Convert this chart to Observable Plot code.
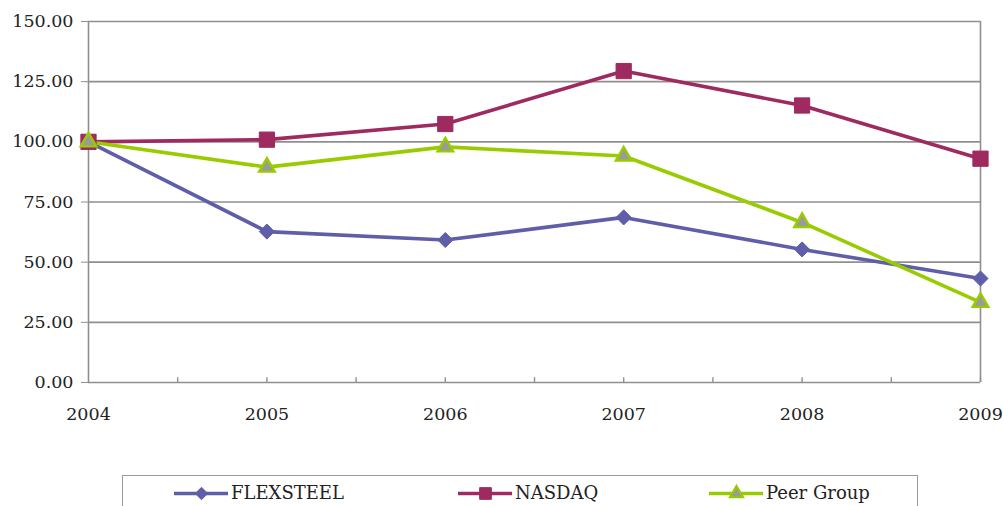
<!DOCTYPE html>
<html>
<head>
<meta charset="utf-8">
<script src="https://cdn.jsdelivr.net/npm/d3@7"></script>
<script src="https://cdn.jsdelivr.net/npm/@observablehq/plot@0.6"></script>
<style>
  html, body { margin: 0; padding: 0; background: #fff; }
  #wrap { position: relative; width: 1004px; height: 506px; overflow: hidden; font-family: "DejaVu Serif", serif; }
  #chart svg { display: block; }
  #chart svg text { font-family: "DejaVu Serif", serif; }
  #legend {
    position: absolute; left: 122px; top: 475px; width: 796px; height: 40px;
    border: 1.6px solid #9a9a9a; box-sizing: border-box; background: #fff;
  }
  .item { position: absolute; top: 5px; height: 24px; display: flex; align-items: center; font-size: 18px; line-height: 24px; color: #222; }
  .item svg { margin-right: 3px; }
</style>
</head>
<body>
<div id="wrap">
  <div id="chart"></div>
  <div id="legend"></div>
</div>
<script>
// Cumulative total return, indexed to 100 in 2004
const years = [2004, 2005, 2006, 2007, 2008, 2009];
const flexsteel = [100.0, 62.7, 59.2, 68.6, 55.3, 43.2];
const nasdaq = [100.0, 100.9, 107.4, 129.4, 115.1, 93.0];
const peerGroup = [100.0, 89.5, 97.9, 94.1, 66.5, 33.3];
const yTicks = [0, 25, 50, 75, 100, 125, 150];
const halfYearTicks = d3.range(2004.5, 2009.01, 0.5);

const seriesInfo = [
  {name: "FLEXSTEEL", values: flexsteel, color: "#5f5ea8", symbol: "diamond2", r: 6.8, legendR: 5.6, fill: "#5f5ea8"},
  {name: "NASDAQ", values: nasdaq, color: "#9e2a60", symbol: "square", r: 8.6, legendR: 6.6, fill: "#9e2a60"},
  {name: "Peer Group", values: peerGroup, color: "#99cc00", symbol: "triangle", r: 5.8, legendR: 4.8, fill: "#9a9a9a"}
];

const rows = seriesInfo.flatMap(s => years.map((year, i) => ({series: s.name, year, value: s.values[i]})));
const gridColor = "#8f8f8f";
const serif = "'DejaVu Serif', serif";

const marks = [
  Plot.ruleY(yTicks.filter(d => d > 0), {y: d => d, stroke: gridColor, strokeWidth: 1.6}),
  Plot.ruleX(halfYearTicks, {x: d => d, y1: 0, y2: 2, stroke: gridColor, strokeWidth: 1.4}),
  Plot.ruleX([2004, 2009], {x: d => d, y1: 0, y2: 150, stroke: gridColor, strokeWidth: 1.6}),
  Plot.ruleY([0], {stroke: gridColor, strokeWidth: 1.6}),
  Plot.axisY({ticks: yTicks, tickFormat: d3.format(".2f"), tickSize: 7, tickPadding: 8, stroke: gridColor, fontSize: 17.5, fill: "#222", label: null}),
  Plot.axisX({ticks: years, tickFormat: d => String(d), tickSize: 0, tickPadding: 25, fontSize: 17.5, fill: "#222", label: null})
];

for (const s of seriesInfo) {
  const data = rows.filter(d => d.series === s.name);
  marks.push(Plot.line(data, {x: "year", y: "value", stroke: s.color, strokeWidth: 3.6}));
}
for (const s of seriesInfo) {
  const data = rows.filter(d => d.series === s.name);
  marks.push(Plot.dot(data, {
    x: "year", y: "value", symbol: () => s.symbol, r: s.r,
    fill: s.fill, stroke: s.color, strokeWidth: s.symbol === "triangle" ? 2.4 : 1
  }));
}

const chart = Plot.plot({
  width: 1004,
  height: 440,
  marginTop: 21,
  marginBottom: 58,
  marginLeft: 88,
  marginRight: 24,
  style: {fontFamily: serif, fontSize: "17.5px", background: "#fff"},
  x: {domain: [2004, 2009], axis: null},
  y: {domain: [0, 150], axis: null},
  symbol: {type: "identity"},
  marks
});
document.getElementById("chart").appendChild(chart);

// Legend below the chart
const legend = document.getElementById("legend");
const legendPos = [51, 335, 586];
seriesInfo.forEach((s, i) => {
  const item = document.createElement("div");
  item.className = "item";
  item.style.left = legendPos[i] + "px";
  const sw = Plot.plot({
    width: 54, height: 24, margin: 0,
    x: {domain: [0, 1], axis: null}, y: {domain: [0, 1], axis: null},
    symbol: {type: "identity"},
    marks: [
      Plot.ruleY([0.5], {x1: 0, x2: 1, stroke: s.color, strokeWidth: 3.6}),
      Plot.dot([0.5], {x: d => d, y: 0.5, symbol: () => s.symbol, r: s.legendR, fill: s.fill, stroke: s.color, strokeWidth: s.symbol === "triangle" ? 2.2 : 1})
    ]
  });
  item.appendChild(sw);
  const label = document.createElement("span");
  label.textContent = s.name;
  item.appendChild(label);
  legend.appendChild(item);
});
</script>
</body>
</html>
